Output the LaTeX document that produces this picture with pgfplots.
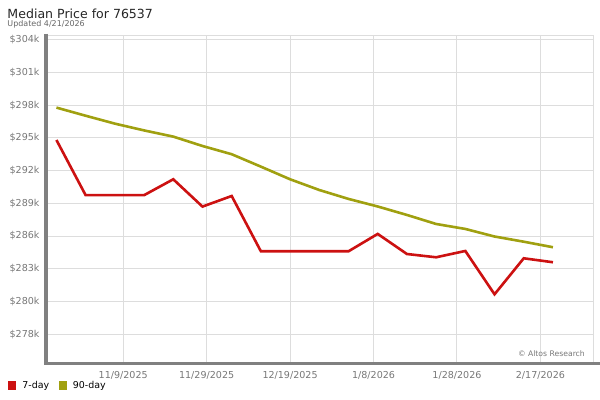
\documentclass[border=0pt]{standalone}
\usepackage{pgfplots}
\pgfplotsset{compat=1.18}
\usepackage{fontspec}
\setmainfont{DejaVu Sans}
\definecolor{redline}{RGB}{204,17,17}
\definecolor{oliveline}{RGB}{160,160,16}
\definecolor{gridc}{RGB}{221,221,221}
\definecolor{axc}{RGB}{128,128,128}
\definecolor{tickc}{RGB}{119,119,119}
\begin{document}
\begin{tikzpicture}
\path[use as bounding box] (0bp,0bp) rectangle (600bp,400bp);
\node[anchor=base west, font=\fontsize{12.6}{14}\selectfont, text=black!85, inner sep=0pt] at (7.3bp,381.7bp) {Median Price for 76537};
\node[anchor=base west, font=\fontsize{8}{9}\selectfont, text=black!60, inner sep=0pt] at (7.3bp,373bp) {Updated 4/21/2026};
\begin{axis}[
  at={(46bp,36.5bp)}, anchor=south west,
  scale only axis, width=547bp, height=327.8bp,
  xmin=-18.5, xmax=112.6, ymin=274.96, ymax=304.0,
  xtick={0,20,40,60,80,100},
  xticklabels={11/9/2025,11/29/2025,12/19/2025,1/8/2026,1/28/2026,2/17/2026},
  ytick={277.55,280.45,283.35,286.25,289.15,292.05,294.95,297.85,300.75,303.65},
  yticklabels={\$278k,\$280k,\$283k,\$286k,\$289k,\$292k,\$295k,\$298k,\$301k,\$304k},
  grid=major, major grid style={gridc, line width=1bp},
  major tick length=0pt, tick style={draw=none},
  axis line style={draw=none},
  ticklabel style={font=\fontsize{9.6}{11}\selectfont, text=tickc},
  yticklabel style={xshift=-3bp},
  xticklabel style={yshift=-4bp},
  clip=false,
  legend style={at={(axis description cs:-0.0695,-0.067)}, anchor=west, draw=none, fill=none,
    font=\fontsize{9.5}{11}\selectfont, inner sep=0pt, nodes={inner sep=1.5bp},
    /tikz/every odd column/.append style={column sep=4.5bp},
    /tikz/every even column/.append style={column sep=8bp}},
  legend columns=2,
  legend image code/.code={\fill[#1] (0bp,-2.8bp) rectangle (5.6bp,2.8bp);},
]
\addplot[color=redline, line width=2.6bp] coordinates {(-16,294.76)(-9,289.87)(-2,289.87)(5,289.87)(12,291.28)(19,288.86)(26,289.80)(33,284.90)(40,284.90)(47,284.90)(54,284.90)(61,286.44)(68,284.66)(75,284.37)(82,284.93)(89,281.09)(96,284.28)(103,283.93)};
\addlegendentry{7-day}
\addplot[color=oliveline, line width=2.6bp] coordinates {(-16,297.63)(-9,296.91)(-2,296.21)(5,295.61)(12,295.06)(19,294.23)(26,293.50)(33,292.40)(40,291.28)(47,290.33)(54,289.54)(61,288.87)(68,288.12)(75,287.32)(82,286.88)(89,286.21)(96,285.75)(103,285.26)};
\addlegendentry{90-day}
\draw[gridc, line width=1bp] (rel axis cs:0,1) -- (rel axis cs:1,1) -- (rel axis cs:1,0);
\draw[axc, line width=3bp] (rel axis cs:0,1.006) -- (rel axis cs:0,0) -- (rel axis cs:1.014,0);
\node[anchor=base east, font=\fontsize{7.7}{8}\selectfont, text=tickc, inner sep=0pt] at (axis description cs:0.9854,0.021) {© Altos Research};
\end{axis}
\end{tikzpicture}
\end{document}
